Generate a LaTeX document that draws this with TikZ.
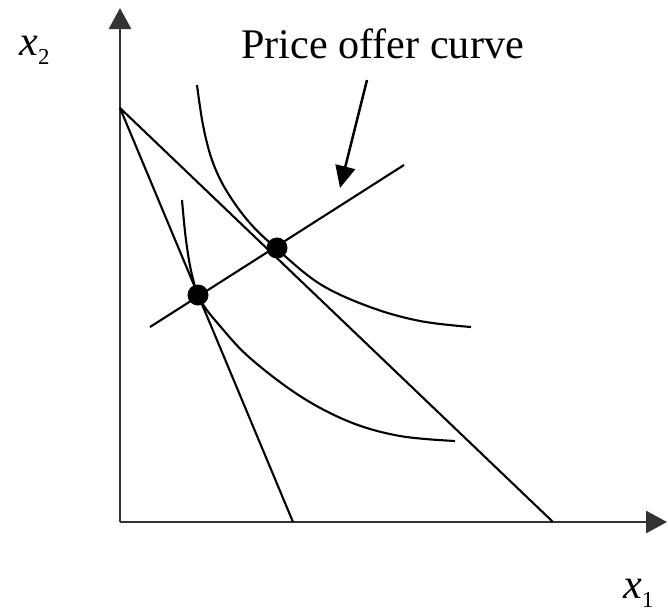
\documentclass[tikz,border=0pt]{standalone}
\usepackage{fontspec}
\setmainfont{Liberation Serif}
\usetikzlibrary{arrows.meta}
\newcommand{\sublow}[1]{\raisebox{-5.5pt}{\fontsize{13}{15}\selectfont #1}}

\begin{document}
\begin{tikzpicture}[
    x=0.02cm,y=-0.02cm,
    font=\fontsize{24}{28}\selectfont,
    axis/.style={-{Triangle[length=4.2mm,width=4.4mm]},line width=1.6pt,black!80},
    budget/.style={line width=1.2pt},
    indiff/.style={line width=1.2pt},
    offer/.style={line width=1.2pt},
    pointer/.style={-{Triangle[length=4.4mm,width=4mm]},line width=1.4pt},
    optimum/.style={circle,fill=black,inner sep=0pt,minimum size=0.42cm},
    axislabel/.style={anchor=base west,inner sep=0pt}
  ]
    \useasboundingbox (0,0) rectangle (668,613);

    % axes
    \coordinate (origin) at (120,522);
    \coordinate (ytop) at (120,8);
    \coordinate (xend) at (667,522);
    \draw[axis] (origin) -- (ytop);
    \draw[axis] (origin) -- (xend);
    \node[axislabel] (xtwo) at (19,55) {\textit{x}\sublow{2}};
    \node[axislabel] (xone) at (623,598) {\textit{x}\sublow{1}};

    % budget lines
    \coordinate (kink) at (120,108);
    \coordinate (steepend) at (293,522);
    \coordinate (flatend) at (553,522);
    \draw[budget] (kink) -- (steepend);
    \draw[budget] (kink) -- (flatend);

    % indifference curves
    \draw[indiff] plot[smooth,tension=0.6] coordinates {(197,85) (203,125) (212,160)
      (226,190) (249,222) (277,249) (320,284) (370,307) (420,321) (471,327)};
    \draw[indiff] plot[smooth,tension=0.6] coordinates {(182,200) (186,240) (192,275)
      (201,301) (220,326) (250,358) (300,396) (350,422) (400,436) (455,441)};

    % optima and price offer curve
    \node[optimum] (low) at (198,295) {};
    \node[optimum] (high) at (277,248) {};
    \coordinate (offstart) at (150,327);
    \coordinate (offend) at (404,165);
    \draw[offer] (offstart) -- (offend);

    \node[anchor=base west,inner sep=0pt] (title) at (241,58) {Price offer curve};
    \coordinate (tail) at (367,80);
    \coordinate (tip) at (340,188);
    \draw[pointer] (tail) -- (tip);
\end{tikzpicture}
\end{document}
